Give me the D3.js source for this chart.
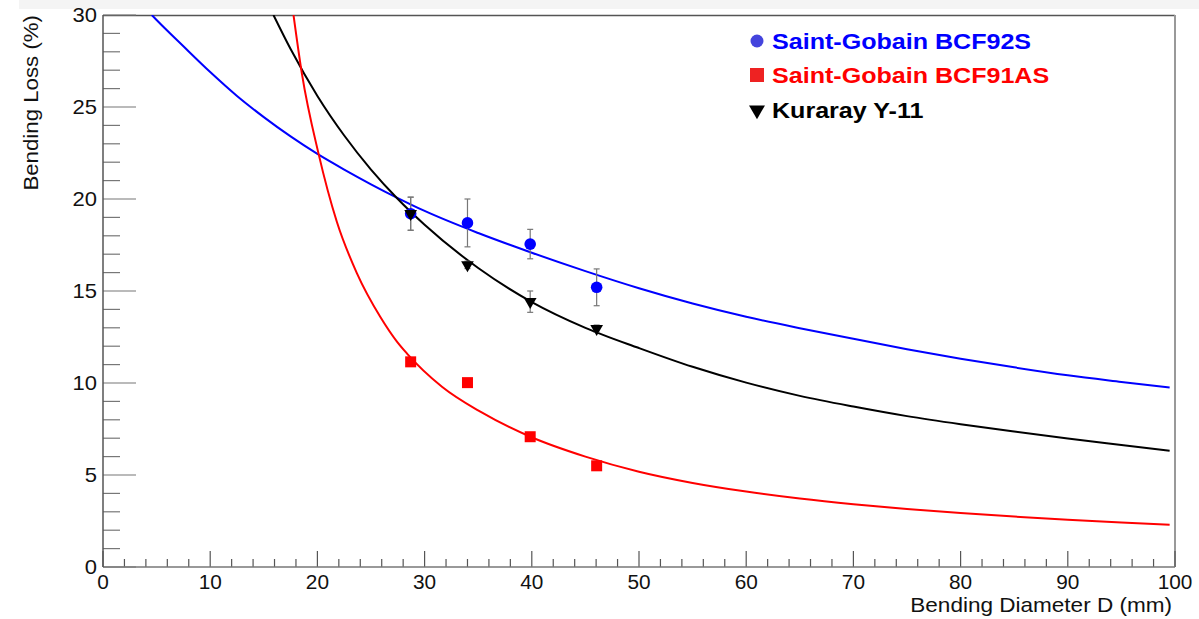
<!DOCTYPE html>
<html>
<head>
<meta charset="utf-8">
<script src="https://cdn.jsdelivr.net/npm/d3@7"></script>
<style>
  html, body { margin: 0; padding: 0; background: #fff; }
  svg { display: block; font-family: "Liberation Sans", Arial, Helvetica, sans-serif; }
</style>
</head>
<body>
<svg id="chart" width="1199" height="619"></svg>
<script>
// ---- data ----
const diameters = [28.7, 34.0, 39.85, 46.05];

const bcf92sLoss = [19.2, 18.7, 17.55, 15.2];
const bcf92sErr  = [0.9, 1.3, 0.8, 1.0];

const bcf91asLoss = [11.15, 10.02, 7.08, 5.5];
const bcf91asErr  = [0.15, 0.15, 0.15, 0.15];

const y11Loss = [19.2, 16.42, 14.42, 12.95];
const y11Err  = [0.9, 0.2, 0.58, 0.2];

// fitted curves
const bcf92sFitX = [4.55, 5, 7.5, 10, 12.5, 15, 17.5, 20, 22.5, 25, 27.5, 30, 35, 40, 45, 50, 55, 60, 65, 70, 75, 80, 85, 90, 95, 99.5];
const bcf92sFitY = [30, 29.73, 28.3, 26.9, 25.6, 24.45, 23.4, 22.45, 21.6, 20.8, 20.05, 19.35, 18.15, 17.08, 16.08, 15.15, 14.32, 13.6, 12.98, 12.4, 11.84, 11.32, 10.85, 10.42, 10.06, 9.75];

const y11FitX = [15.9, 17.5, 20, 22.5, 25, 27.5, 30, 35, 40, 45, 50, 55, 60, 65, 70, 75, 80, 85, 90, 95, 99.5];
const y11FitY = [30, 28.15, 25.6, 23.45, 21.6, 20.0, 18.6, 16.25, 14.4, 13.0, 11.9, 10.88, 10.02, 9.3, 8.72, 8.2, 7.76, 7.36, 6.98, 6.63, 6.32];

const bcf91asFitX = [17.77, 18.55, 20.1, 21.82, 23.69, 25.86, 27.42, 28.36, 31.62, 35.2, 39.87, 45, 50, 55, 60, 65, 70, 75, 80, 85, 90, 95, 99.5];
const bcf91asFitY = [30, 26.83, 22.48, 18.75, 15.96, 13.6, 12.25, 11.6, 9.8, 8.44, 7.08, 6.0, 5.18, 4.57, 4.1, 3.72, 3.41, 3.15, 2.93, 2.74, 2.57, 2.42, 2.29];

const xTicks = [0, 10, 20, 30, 40, 50, 60, 70, 80, 90, 100];
const yTicks = [0, 5, 10, 15, 20, 25, 30];

const legendLabels = ["Saint-Gobain BCF92S", "Saint-Gobain BCF91AS", "Kuraray Y-11"];

// ---- layout ----
const svg = d3.select("#chart");
const L = 103, R = 1175, T = 15, B = 567;
const x = d3.scaleLinear().domain([0, 100]).range([L, R]);
const y = d3.scaleLinear().domain([0, 30]).range([B, T]);

// stretched text helper (the reference glyphs are a little wider than Liberation Sans)
function stext(g, tx, ty, str, size, sx, anchor, rot) {
  return g.append("text")
    .attr("transform", `translate(${tx},${ty})${rot ? ` rotate(${rot})` : ""} scale(${sx},1)`)
    .attr("text-anchor", anchor || "start")
    .attr("font-size", size)
    .attr("fill", "#111")
    .text(str);
}

// faint top band
svg.append("rect").attr("x", 19).attr("y", 0).attr("width", 1180).attr("height", 9).attr("fill", "#f4f4f4");

// clip
svg.append("clipPath").attr("id", "plotclip").append("rect")
  .attr("x", L).attr("y", T).attr("width", R - L).attr("height", B - T);

// frame
svg.append("line").attr("x1", L).attr("x2", R).attr("y1", T + 0.5).attr("y2", T + 0.5).attr("stroke", "#555").attr("stroke-width", 1.5);
svg.append("line").attr("x1", R).attr("x2", R).attr("y1", T).attr("y2", B).attr("stroke", "#999").attr("stroke-width", 2);

// x axis
const xMinor = d3.range(0, 101, 2);
const gx = svg.append("g");
gx.selectAll("line.minor").data(xMinor).join("line")
  .attr("x1", d => x(d)).attr("x2", d => x(d))
  .attr("y1", B).attr("y2", d => B - (d % 10 === 0 ? 16 : 8))
  .attr("stroke", "#555").attr("stroke-width", 1.2);
gx.append("line").attr("x1", L).attr("x2", R).attr("y1", B).attr("y2", B).attr("stroke", "#777").attr("stroke-width", 1.5);
xTicks.forEach(d => stext(gx, x(d), B + 22, d, 20, 1.04, "middle"));

// y axis
const yMinor = d3.range(0, 31, 1);
const gy = svg.append("g");
gy.selectAll("line").data(yMinor).join("line")
  .attr("x1", L).attr("x2", d => L + (d % 5 === 0 ? 33 : 17))
  .attr("y1", d => y(d)).attr("y2", d => y(d))
  .attr("stroke", "#777").attr("stroke-width", 1.2);
gy.append("line").attr("x1", L).attr("x2", L).attr("y1", T).attr("y2", B).attr("stroke", "#555").attr("stroke-width", 1.5);
yTicks.forEach(d => stext(gy, 97, y(d) + 7, d, 20, 1.1, "end"));

// axis titles
stext(svg, 1172, 612, "Bending Diameter D (mm)", 20.5, 1.1, "end");
stext(svg, 38, 15, "Bending Loss (%)", 21, 1.06, "end", -90);

// curves
const line = d3.line().x(d => x(d[0])).y(d => y(d[1])).curve(d3.curveMonotoneX);
const plot = svg.append("g").attr("clip-path", "url(#plotclip)");
function curve(xs, ys, color) {
  plot.append("path").datum(xs.map((v, i) => [v, ys[i]]))
    .attr("d", line).attr("fill", "none").attr("stroke", color).attr("stroke-width", 2);
}
curve(bcf92sFitX, bcf92sFitY, "#0000ff");
curve(y11FitX, y11FitY, "#000000");
curve(bcf91asFitX, bcf91asFitY, "#ff0000");

// error bars
function errs(vals, errsArr) {
  const g = plot.append("g").attr("stroke", "#777").attr("stroke-width", 1.2);
  diameters.forEach((d, i) => {
    const cx = x(d);
    const y1 = y(vals[i] + errsArr[i]), y2 = y(vals[i] - errsArr[i]);
    g.append("line").attr("x1", cx).attr("x2", cx).attr("y1", y1).attr("y2", y2);
    g.append("line").attr("x1", cx - 3).attr("x2", cx + 3).attr("y1", y1).attr("y2", y1);
    g.append("line").attr("x1", cx - 3).attr("x2", cx + 3).attr("y1", y2).attr("y2", y2);
  });
}
errs(bcf92sLoss, bcf92sErr);
errs(y11Loss, y11Err);
errs(bcf91asLoss, bcf91asErr);

// markers
const tri = d3.symbol().type(d3.symbolTriangle).size(70);
plot.selectAll("circle.b").data(diameters).join("circle")
  .attr("cx", d => x(d)).attr("cy", (d, i) => y(bcf92sLoss[i])).attr("r", 5.8).attr("fill", "#0000ff");
plot.selectAll("rect.r").data(diameters).join("rect")
  .attr("x", d => x(d) - 5.5).attr("y", (d, i) => y(bcf91asLoss[i]) - 5.5)
  .attr("width", 11).attr("height", 11).attr("fill", "#ff0000");
plot.selectAll("path.k").data(diameters).join("path")
  .attr("d", tri)
  .attr("transform", (d, i) => `translate(${x(d)},${y(y11Loss[i])}) rotate(180)`)
  .attr("fill", "#000");

// legend
const lg = svg.append("g");
const legColors = ["#0000ff", "#ff0000", "#000000"];
const legY = [41, 75, 110];
lg.append("circle").attr("cx", 757).attr("cy", legY[0]).attr("r", 6.5).attr("fill", "#4444dd");
lg.append("rect").attr("x", 750).attr("y", legY[1] - 7).attr("width", 14).attr("height", 14).attr("fill", "#ee2222");
lg.append("path").attr("d", d3.symbol().type(d3.symbolTriangle).size(110))
  .attr("transform", `translate(757,${legY[2]}) rotate(180)`).attr("fill", "#000");
legendLabels.forEach((t, i) => {
  stext(lg, 772, legY[i] + 8, t, 22, 1.14, "start")
    .attr("font-weight", "bold").attr("fill", legColors[i]);
});
</script>
</body>
</html>
